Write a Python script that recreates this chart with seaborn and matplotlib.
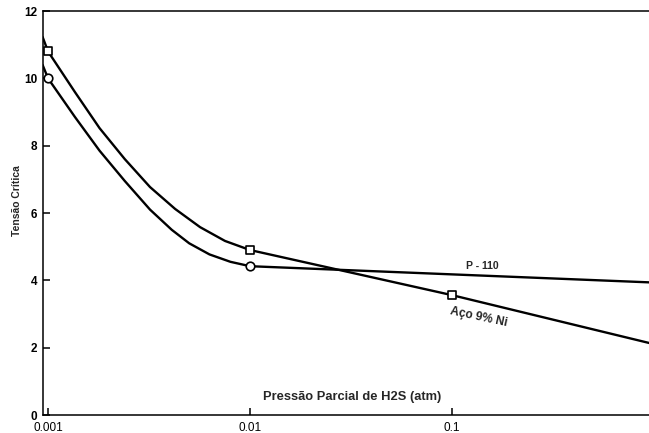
import matplotlib
matplotlib.use("Agg")
import matplotlib.pyplot as plt
from matplotlib.ticker import NullLocator
import pandas as pd
import seaborn as sns

# Critical stress versus H2S partial pressure for two steels
p110_pressao = [0.00094, 0.001, 0.00136, 0.0018, 0.0024, 0.0032, 0.0041, 0.005, 0.0063, 0.008, 0.01, 0.945]
p110_tensao = [10.4, 10.0, 8.85, 7.85, 6.95, 6.1, 5.5, 5.1, 4.77, 4.55, 4.42, 3.94]
p110_ensaios_x = [0.001, 0.01]
p110_ensaios_y = [10.0, 4.42]

ni9_pressao = [0.00094, 0.001, 0.00136, 0.0018, 0.0024, 0.0032, 0.00426, 0.00566, 0.00752, 0.01, 0.1, 0.945]
ni9_tensao = [11.23, 10.8, 9.59, 8.52, 7.6, 6.77, 6.12, 5.58, 5.17, 4.9, 3.56, 2.14]
ni9_ensaios_x = [0.001, 0.01, 0.1]
ni9_ensaios_y = [10.8, 4.9, 3.56]

x_ticks = [0.001, 0.01, 0.1]
x_tick_labels = ["0.001", "0.01", "0.1"]
y_ticks = [0, 2, 4, 6, 8, 10, 12]

sns.set_style("ticks")
plt.rcParams["font.family"] = ["Liberation Sans", "DejaVu Sans"]

curvas = pd.DataFrame({
    "pressao": p110_pressao + ni9_pressao,
    "tensao": p110_tensao + ni9_tensao,
    "material": ["P-110"] * len(p110_pressao) + ["Aço 9% Ni"] * len(ni9_pressao),
})

fig = plt.figure(figsize=(6.49, 4.33), dpi=100)
ax = fig.add_axes([43 / 649, 18 / 433, 606 / 649, 404 / 433])
ax.set_xscale("log")

sns.lineplot(data=curvas, x="pressao", y="tensao", hue="material",
             palette={"P-110": "black", "Aço 9% Ni": "black"},
             sort=False, estimator=None, linewidth=1.7, legend=False, ax=ax)

sns.scatterplot(x=p110_ensaios_x, y=p110_ensaios_y, marker="o", s=38,
                facecolor="white", edgecolor="black", linewidth=1.2,
                zorder=4, ax=ax)
sns.scatterplot(x=ni9_ensaios_x, y=ni9_ensaios_y, marker="s", s=38,
                facecolor="white", edgecolor="black", linewidth=1.2,
                zorder=4, ax=ax)

ax.set_xlim(10 ** -3.0248, 10 ** -0.0248)
ax.set_ylim(0, 12)
ax.set_xticks(x_ticks)
ax.set_xticklabels(x_tick_labels)
ax.xaxis.set_minor_locator(NullLocator())
ax.set_yticks(y_ticks)
ax.tick_params(axis="both", direction="in", length=5, width=1.1,
               labelsize=8.5, colors="black")
ax.tick_params(axis="y", pad=4)
ax.tick_params(axis="x", pad=5)
for lbl in ax.get_yticklabels():
    lbl.set_fontweight("bold")

for side in ("left", "bottom", "top"):
    ax.spines[side].set_linewidth(1.1)
    ax.spines[side].set_color("black")
ax.spines["right"].set_visible(False)

ax.set_xlabel("")
ax.set_ylabel("")
ax.text(0.51, 0.045, "Pressão Parcial de H2S (atm)", transform=ax.transAxes,
        ha="center", va="center", fontsize=9.3, fontweight="bold")
ax.text(-0.043, 0.532, "Tensão Crítica", transform=ax.transAxes,
        ha="center", va="center", rotation=90, fontsize=7.5, fontweight="bold")

ax.text(0.141, 4.43, "P - 110", ha="center", va="center",
        fontsize=7.5, fontweight="bold")
ax.text(0.136, 2.91, "Aço 9% Ni", ha="center", va="center",
        fontsize=8.6, fontweight="bold", rotation=-12)

fig.savefig("out.png", dpi=100)
